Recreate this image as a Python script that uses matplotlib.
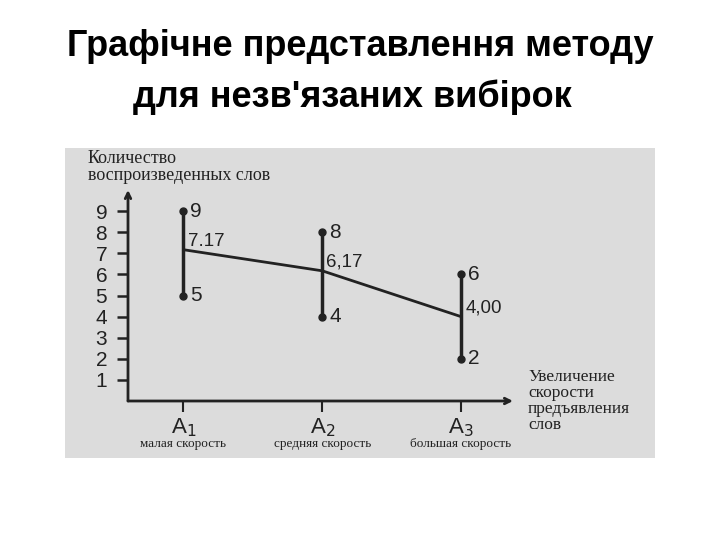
import matplotlib.pyplot as plt
from matplotlib.patches import Rectangle

# data
groups = ["A$_1$", "A$_2$", "A$_3$"]
group_notes = ["малая скорость", "средняя скорость", "большая скорость"]
x_pos = [1, 2, 3]
mins = [5, 4, 2]
maxs = [9, 8, 6]
means = [7.17, 6.17, 4.00]
mean_labels = ["7.17", "6,17", "4,00"]
y_ticks = [1, 2, 3, 4, 5, 6, 7, 8, 9]

ink = "#222222"
serif = ["Liberation Serif", "DejaVu Serif"]
sans = ["Liberation Sans", "DejaVu Sans"]

fig = plt.figure(figsize=(7.2, 5.4), dpi=100)
fig.patch.set_facecolor("white")

# scanned grey panel
fig.patches.append(Rectangle((65 / 720, 1 - 458 / 540), 590 / 720, 310 / 540,
                             transform=fig.transFigure, facecolor="#dcdcdc",
                             edgecolor="none", zorder=-10))

fig.text(0.5, 1 - 47 / 540, "Графічне представлення методу", ha="center", va="center",
         fontsize=26, fontweight="bold", family=sans)
fig.text(352 / 720, 1 - 97 / 540, "для незв'язаних вибірок", ha="center", va="center",
         fontsize=26, fontweight="bold", family=sans)

ax = fig.add_axes([128 / 720, 1 - 401 / 540, (513 - 128) / 720, (401 - 190) / 540])
ax.set_facecolor("none")
ax.set_xlim(0.6, 3.375)
ax.set_ylim(0, 10.0)
for s in ax.spines.values():
    s.set_visible(False)

# axes with arrows
ax.annotate("", xy=(3.375, 0), xytext=(0.6, 0), annotation_clip=False,
            arrowprops=dict(arrowstyle="->", color=ink, lw=2, shrinkA=0, shrinkB=0))
ax.annotate("", xy=(0.6, 10.0), xytext=(0.6, 0), annotation_clip=False,
            arrowprops=dict(arrowstyle="->", color=ink, lw=2, shrinkA=0, shrinkB=0))

ax.set_yticks(y_ticks)
ax.set_yticklabels([str(t) for t in y_ticks], family=sans, fontsize=15, color=ink)
ax.tick_params(axis="y", length=8, width=1.8, color=ink, pad=7)
ax.set_xticks(x_pos)
ax.set_xticklabels([])
ax.tick_params(axis="x", length=8, width=1.5, color=ink)

for x, lo, hi in zip(x_pos, mins, maxs):
    ax.plot([x, x], [lo, hi], color=ink, lw=2.5, solid_capstyle="butt")
    ax.plot([x, x], [lo, hi], "o", color=ink, ms=5)
    ax.annotate(str(hi), (x, hi), xytext=(5, 0), textcoords="offset points",
                va="center", ha="left", fontsize=15, family=sans, color=ink)
    ax.annotate(str(lo), (x, lo), xytext=(5, 0), textcoords="offset points",
                va="center", ha="left", fontsize=15, family=sans, color=ink)

ax.plot(x_pos, means, color=ink, lw=2)
for x, m, lab in zip(x_pos, means, mean_labels):
    ax.annotate(lab, (x, m), xytext=(3, 0), textcoords="offset points",
                va="bottom", ha="left", fontsize=13.5, family=sans, color=ink)

for x, g, note in zip(x_pos, groups, group_notes):
    ax.annotate(g, (x, 0), xytext=(0, -11), textcoords="offset points",
                va="top", ha="center", fontsize=16, family=sans, color=ink)
    ax.annotate(note, (x, 0), xytext=(0, -27), textcoords="offset points",
                va="top", ha="center", fontsize=9.5, family=serif, color=ink)

fig.text(88 / 720, 1 - 167 / 540, "Количество\nвоспроизведенных слов", ha="left",
         va="center", fontsize=13, family=serif, color=ink, linespacing=1.05)
fig.text(528 / 720, 1 - 401 / 540, "Увеличение\nскорости\nпредъявления\nслов", ha="left",
         va="center", fontsize=12.5, family=serif, color=ink, linespacing=1.02)

fig.savefig("out.png", dpi=100)
